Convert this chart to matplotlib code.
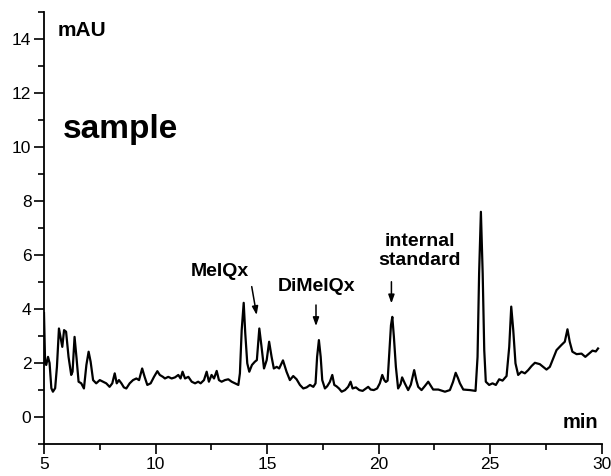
import matplotlib
matplotlib.use("Agg")
import matplotlib.pyplot as plt
from matplotlib.ticker import MultipleLocator

plt.rcParams['font.family'] = ['Liberation Sans', 'DejaVu Sans']

# Retention time (min) and absorbance (mAU)
time_min = [
    5.00, 5.05, 5.10, 5.18, 5.25, 5.33, 5.40, 5.50, 5.58, 5.67, 5.74, 5.82, 5.90, 5.99,
    6.10, 6.22, 6.28, 6.37, 6.46, 6.55, 6.67, 6.79, 6.90, 7.00, 7.09, 7.20, 7.34, 7.50,
    7.64, 7.79, 7.94, 8.06, 8.17, 8.26, 8.36, 8.47, 8.58, 8.69, 8.84, 8.99, 9.14, 9.26,
    9.40, 9.51, 9.63, 9.78, 9.93, 10.08, 10.19, 10.33,
    10.42, 10.57, 10.72, 10.87, 11.02, 11.12, 11.21, 11.32, 11.47, 11.62, 11.77, 11.91,
    12.02, 12.17, 12.29, 12.39, 12.51, 12.62, 12.74, 12.84, 12.96, 13.11, 13.26, 13.41,
    13.56, 13.71, 13.78, 13.86, 13.95, 14.02, 14.11, 14.20, 14.32, 14.45, 14.54, 14.65,
    14.75, 14.86, 14.98, 15.09, 15.20, 15.30, 15.43, 15.54, 15.71, 15.87, 16.02, 16.17,
    16.32, 16.47, 16.62, 16.77, 16.92, 17.07, 17.17, 17.24, 17.32, 17.40, 17.47, 17.59,
    17.69, 17.81, 17.92, 18.01, 18.11, 18.22, 18.34, 18.49, 18.63, 18.74, 18.83, 18.98,
    19.13, 19.28, 19.43, 19.53, 19.64, 19.78, 19.93, 20.05, 20.16, 20.25, 20.32, 20.40,
    20.47, 20.55, 20.61, 20.68, 20.77, 20.87, 20.98, 21.05, 21.17, 21.32, 21.44, 21.59,
    21.69, 21.77, 21.92, 22.07, 22.22, 22.44, 22.67, 22.97, 23.19, 23.33, 23.45, 23.55,
    23.64, 23.79, 24.09, 24.34, 24.43, 24.50, 24.58, 24.66, 24.73, 24.80, 24.95, 25.10,
    25.25, 25.40, 25.55, 25.73, 25.85, 25.94, 26.03, 26.13, 26.25, 26.40, 26.55, 26.70,
    26.85, 27.00, 27.22, 27.37, 27.52, 27.67, 27.82, 27.97, 28.19, 28.34, 28.46, 28.56,
    28.68, 28.87, 29.09, 29.26, 29.43, 29.58, 29.73, 29.83,
]
absorbance_mau = [
    3.85, 2.00, 1.93, 2.23, 2.00, 1.07, 0.94, 1.07, 1.86, 3.28, 2.97, 2.60, 3.22, 3.16,
    2.23, 1.56, 1.68, 2.97, 2.17, 1.31, 1.25, 1.06, 1.93, 2.42, 2.05, 1.37, 1.25, 1.37,
    1.31, 1.25, 1.12, 1.25, 1.62, 1.25, 1.37, 1.25, 1.10, 1.06, 1.25, 1.37, 1.43, 1.37,
    1.80, 1.49, 1.19, 1.25, 1.49, 1.70, 1.56, 1.49,
    1.43, 1.49, 1.43, 1.47, 1.56, 1.43, 1.68, 1.43, 1.49, 1.31, 1.25, 1.31,
    1.25, 1.37, 1.68, 1.31, 1.56, 1.43, 1.71, 1.37, 1.31, 1.37, 1.40, 1.31,
    1.25, 1.19, 1.62, 3.22, 4.23, 3.10, 1.99, 1.68, 1.93, 2.05, 2.11, 3.28,
    2.60, 1.80, 2.11, 2.79, 2.23, 1.80, 1.86, 1.80, 2.10, 1.68, 1.37, 1.52,
    1.40, 1.19, 1.06, 1.10, 1.19, 1.12, 1.25, 2.23, 2.85, 2.23, 1.37, 1.06,
    1.14, 1.30, 1.56, 1.19, 1.14, 1.06, 0.94, 1.00, 1.12, 1.31, 1.06, 1.10,
    1.00, 0.97, 1.06, 1.12, 1.02, 1.00, 1.06, 1.25, 1.56, 1.37, 1.30, 1.35,
    2.30, 3.40, 3.71, 2.98, 1.86, 1.06, 1.22, 1.47, 1.25, 1.00, 1.20, 1.74,
    1.35, 1.12, 1.00, 1.15, 1.31, 1.02, 1.02, 0.94, 1.00, 1.30, 1.64, 1.45,
    1.25, 1.02, 1.00, 0.97, 2.23, 5.32, 7.60, 5.32, 2.48, 1.31, 1.19, 1.25,
    1.19, 1.40, 1.35, 1.52, 2.60, 4.09, 3.22, 1.99, 1.56, 1.68, 1.62, 1.74,
    1.89, 2.01, 1.96, 1.86, 1.76, 1.86, 2.17, 2.48, 2.67, 2.79, 3.25, 2.79,
    2.42, 2.33, 2.35, 2.23, 2.35, 2.46, 2.43, 2.54,
]

x_ticks = [5, 10, 15, 20, 25, 30]
y_ticks = [0, 2, 4, 6, 8, 10, 12, 14]

fig = plt.figure(figsize=(6.11, 4.76), dpi=100)
ax = fig.add_axes([0.072, 0.067, 0.913, 0.908])

ax.plot(time_min, absorbance_mau, color='black', lw=1.6, solid_joinstyle='round')

ax.set_xlim(5, 30)
ax.set_ylim(-1, 15)
ax.set_xticks(x_ticks)
ax.set_yticks(y_ticks)
ax.xaxis.set_minor_locator(MultipleLocator(2.5))
ax.yaxis.set_minor_locator(MultipleLocator(1))
for s in ['top', 'right']:
    ax.spines[s].set_visible(False)
for s in ['left', 'bottom']:
    ax.spines[s].set_linewidth(1.3)
ax.tick_params(which='major', direction='out', length=7, width=1.2, labelsize=12.5, pad=2)
ax.tick_params(which='minor', direction='out', length=4, width=1.2)

ax.text(5.62, 14.3, 'mAU', fontsize=15, fontweight='bold', ha='left', va='center')
ax.text(5.85, 10.65, 'sample', fontsize=24, fontweight='bold', ha='left', va='center')
ax.text(29.85, -0.2, 'min', fontsize=14.5, fontweight='bold', ha='right', va='center')

arrow = dict(arrowstyle='-|>,head_length=0.5,head_width=0.18', color='black', lw=1.1,
             shrinkA=0, shrinkB=0)
ax.text(12.9, 5.4, 'MeIQx', fontsize=14, fontweight='bold', ha='center', va='center')
ax.annotate('', xy=(14.53, 3.78), xytext=(14.31, 4.83), arrowprops=arrow)
ax.text(17.23, 4.85, 'DiMeIQx', fontsize=14, fontweight='bold', ha='center', va='center')
ax.annotate('', xy=(17.19, 3.37), xytext=(17.19, 4.15), arrowprops=arrow)
ax.text(21.85, 6.15, 'internal\nstandard', fontsize=14, fontweight='bold', ha='center',
        va='center', linespacing=1.15)
ax.annotate('', xy=(20.57, 4.21), xytext=(20.57, 5.01), arrowprops=arrow)

fig.savefig('out.png', dpi=100)
